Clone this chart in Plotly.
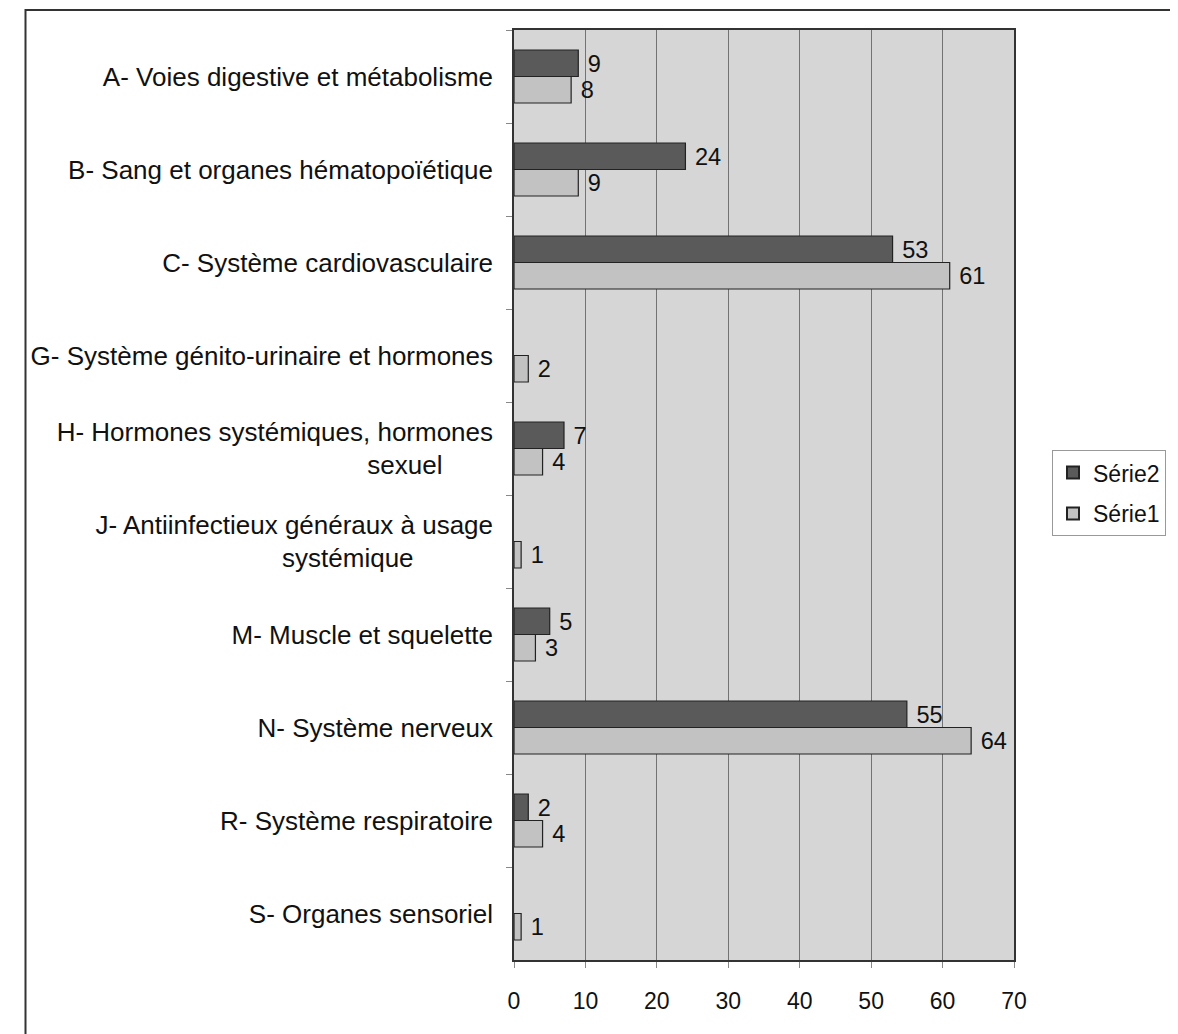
import plotly.graph_objects as go

NB = "\u00a0"
categories = [
    "A- Voies digestive et métabolisme",
    "B- Sang et organes hématopoïétique",
    "C- Système cardiovasculaire",
    "G- Système génito-urinaire et hormones",
    "H- Hormones systémiques, hormones<br>sexuel" + NB * 7,
    "J- Antiinfectieux généraux à usage<br>systémique" + NB * 11,
    "M- Muscle et squelette",
    "N- Système nerveux",
    "R- Système respiratoire",
    "S- Organes sensoriel",
]
serie2 = [9, 24, 53, None, 7, None, 5, 55, 2, None]
serie1 = [8, 9, 61, 2, 4, 1, 3, 64, 4, 1]
x_ticks = [0, 10, 20, 30, 40, 50, 60, 70]

FONT = "Liberation Sans, Arial, sans-serif"


def labels(vals):
    return [("" if v is None else NB + str(v)) for v in vals]


fig = go.Figure()
fig.add_trace(go.Bar(
    name="Série2", y=categories, x=serie2, orientation="h", legendgroup="s2",
    marker=dict(color="#5a5a5a", line=dict(color="#222222", width=1.2)),
    text=labels(serie2),
    textposition="outside", textfont=dict(size=24, color="#111111", family=FONT),
    cliponaxis=False,
))
fig.add_trace(go.Bar(
    name="Série1", y=categories, x=serie1, orientation="h", legendgroup="s1",
    marker=dict(color="#c2c2c2", line=dict(color="#222222", width=1.2)),
    text=labels(serie1),
    textposition="outside", textfont=dict(size=24, color="#111111", family=FONT),
    cliponaxis=False,
))

fig.update_layout(
    width=1170, height=1026,
    margin=dict(l=506, r=150, t=22, b=74),
    barmode="group", bargap=0.43, bargroupgap=0,
    plot_bgcolor="#d6d6d6", paper_bgcolor="white",
    font=dict(family=FONT, size=22, color="#111111"),
    showlegend=True,
    legend=dict(
        x=1.076, y=0.502, xanchor="left", yanchor="middle",
        bgcolor="white", bordercolor="#999999", borderwidth=1,
        font=dict(size=23, family=FONT, color="#111111"),
        itemsizing="constant", tracegroupgap=8, itemwidth=30,
    ),
    shapes=[dict(
        type="rect", xref="paper", yref="paper",
        x0=-0.977, x1=1.6, y0=-0.3, y1=1.0215,
        line=dict(color="#333333", width=2), fillcolor="rgba(0,0,0,0)", layer="below",
    )],
)
fig.update_xaxes(
    range=[0, 70], tickvals=x_ticks, ticktext=[str(t) for t in x_ticks],
    showgrid=True, gridcolor="#737373", gridwidth=1,
    showline=True, linecolor="#333333", linewidth=1.5, mirror=True,
    ticks="outside", ticklen=6, tickcolor="#888888",
    tickfont=dict(size=23, family=FONT, color="#111111"),
    zeroline=False, fixedrange=True, ticklabelstandoff=14,
)
fig.update_yaxes(
    autorange="reversed", type="category",
    showline=True, linecolor="#333333", linewidth=1.5, mirror=True,
    ticks="outside", ticklen=6, tickcolor="#888888", tickson="boundaries",
    tickfont=dict(size=26, family=FONT, color="#111111"),
    showgrid=False, ticklabelstandoff=14,
)

fig.write_html("out.html")
